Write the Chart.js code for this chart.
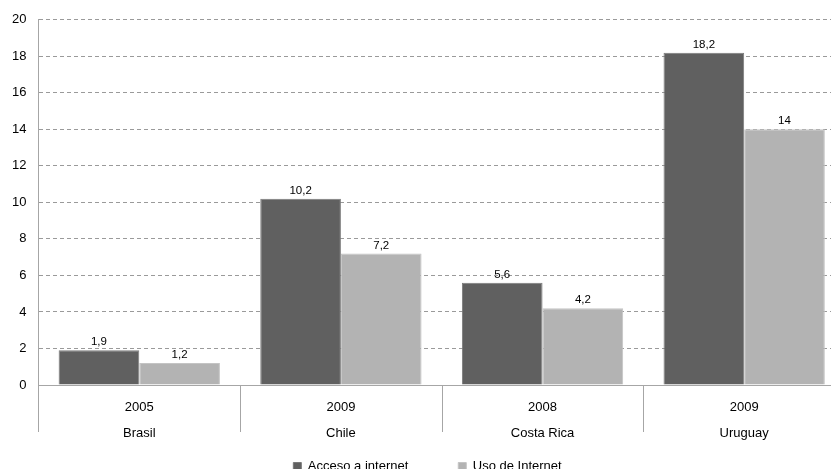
<!DOCTYPE html>
<html>
<head>
<meta charset="utf-8">
<script src="https://cdn.jsdelivr.net/npm/chart.js@4"></script>
<style>
  html, body { margin: 0; padding: 0; overflow: hidden; background: #fff; }
  #wrap { width: 845px; height: 520px; position: relative; }
</style>
</head>
<body>
<div id="wrap"><canvas id="accesoChart"></canvas></div>
<script>
// datos del grafico
const paises = ['Brasil', 'Chile', 'Costa Rica', 'Uruguay'];
const anios = ['2005', '2009', '2008', '2009'];
const accesoInternet = [1.9, 10.2, 5.6, 18.2];
const usoInternet = [1.2, 7.2, 4.2, 14];
const ticksY = [0, 2, 4, 6, 8, 10, 12, 14, 16, 18, 20];

const fuente = '"Liberation Sans", Arial, sans-serif';

// etiquetas encima de cada barra, con coma decimal
const etiquetasBarras = {
    id: 'etiquetasBarras',
    afterDatasetsDraw(chart) {
        const ctx = chart.ctx;
        ctx.save();
        ctx.font = '11.5px ' + fuente;
        ctx.fillStyle = '#000';
        ctx.textAlign = 'center';
        ctx.textBaseline = 'alphabetic';
        chart.data.datasets.forEach((ds, i) => {
            chart.getDatasetMeta(i).data.forEach((bar, j) => {
                const txt = String(ds.data[j]).replace('.', ',');
                ctx.fillText(txt, bar.x, bar.y - 5);
            });
        });
        ctx.restore();
    }
};

// lineas verticales que separan las categorias debajo del eje
const separadores = {
    id: 'separadores',
    afterLayout(chart) {
        // subir la leyenda para que quede pegada al eje
        chart.legend.top -= 37;
        chart.legend.bottom -= 37;
        chart.legend.left += 5;
        chart.legend.right += 5;
    },
    afterDraw(chart) {
        const xs = chart.scales.x;
        const n = chart.data.labels.length;
        const ctx = chart.ctx;
        const y0 = chart.chartArea.bottom;
        ctx.save();
        ctx.strokeStyle = '#a6a6a6';
        ctx.lineWidth = 1;
        ctx.beginPath();
        for (let k = 0; k <= n; k++) {
            const x = Math.round(xs.left + k * xs.width / n) + 0.5;
            ctx.moveTo(x, y0);
            ctx.lineTo(x, y0 + 47);
        }
        ctx.stroke();
        ctx.restore();
    }
};

const ctx = document.getElementById('accesoChart').getContext('2d');

const config = {
    type: 'bar',
    data: {
        labels: paises.map((p, i) => [anios[i], p]),
        datasets: [{
            label: 'Acceso a internet',
            data: accesoInternet,
            backgroundColor: '#606060',
            borderColor: '#7a7a7a',
            borderWidth: 1,
            categoryPercentage: 0.8,
            barPercentage: 1.0
        }, {
            label: 'Uso de Internet',
            data: usoInternet,
            backgroundColor: '#b3b3b3',
            borderColor: '#c4c4c4',
            borderWidth: 1,
            categoryPercentage: 0.8,
            barPercentage: 1.0
        }]
    },
    options: {
        responsive: true,
        maintainAspectRatio: false,
        animation: false,
        layout: { padding: { top: 18, left: 0, right: 0, bottom: 0 } },
        plugins: {
            legend: {
                position: 'bottom',
                labels: {
                    boxWidth: 8,
                    boxHeight: 8,
                    padding: 50,
                    color: '#000',
                    font: { family: fuente, size: 13 }
                }
            },
            tooltip: { enabled: false }
        },
        scales: {
            x: {
                grid: { display: false },
                border: { color: '#a6a6a6' },
                ticks: {
                    color: '#000',
                    padding: 1,
                    font: { family: fuente, size: 13, lineHeight: 2 }
                }
            },
            y: {
                min: 0,
                max: 20,
                afterBuildTicks: axis => { axis.ticks = ticksY.map(v => ({ value: v })); },
                grid: {
                    color: '#9a9a9a',
                    drawTicks: false
                },
                border: { color: '#a6a6a6', dash: [4, 3] },
                ticks: {
                    color: '#000',
                    padding: 12,
                    font: { family: fuente, size: 13 }
                }
            }
        }
    },
    plugins: [etiquetasBarras, separadores]
};

const accesoChart = new Chart(ctx, config);
</script>
</body>
</html>
